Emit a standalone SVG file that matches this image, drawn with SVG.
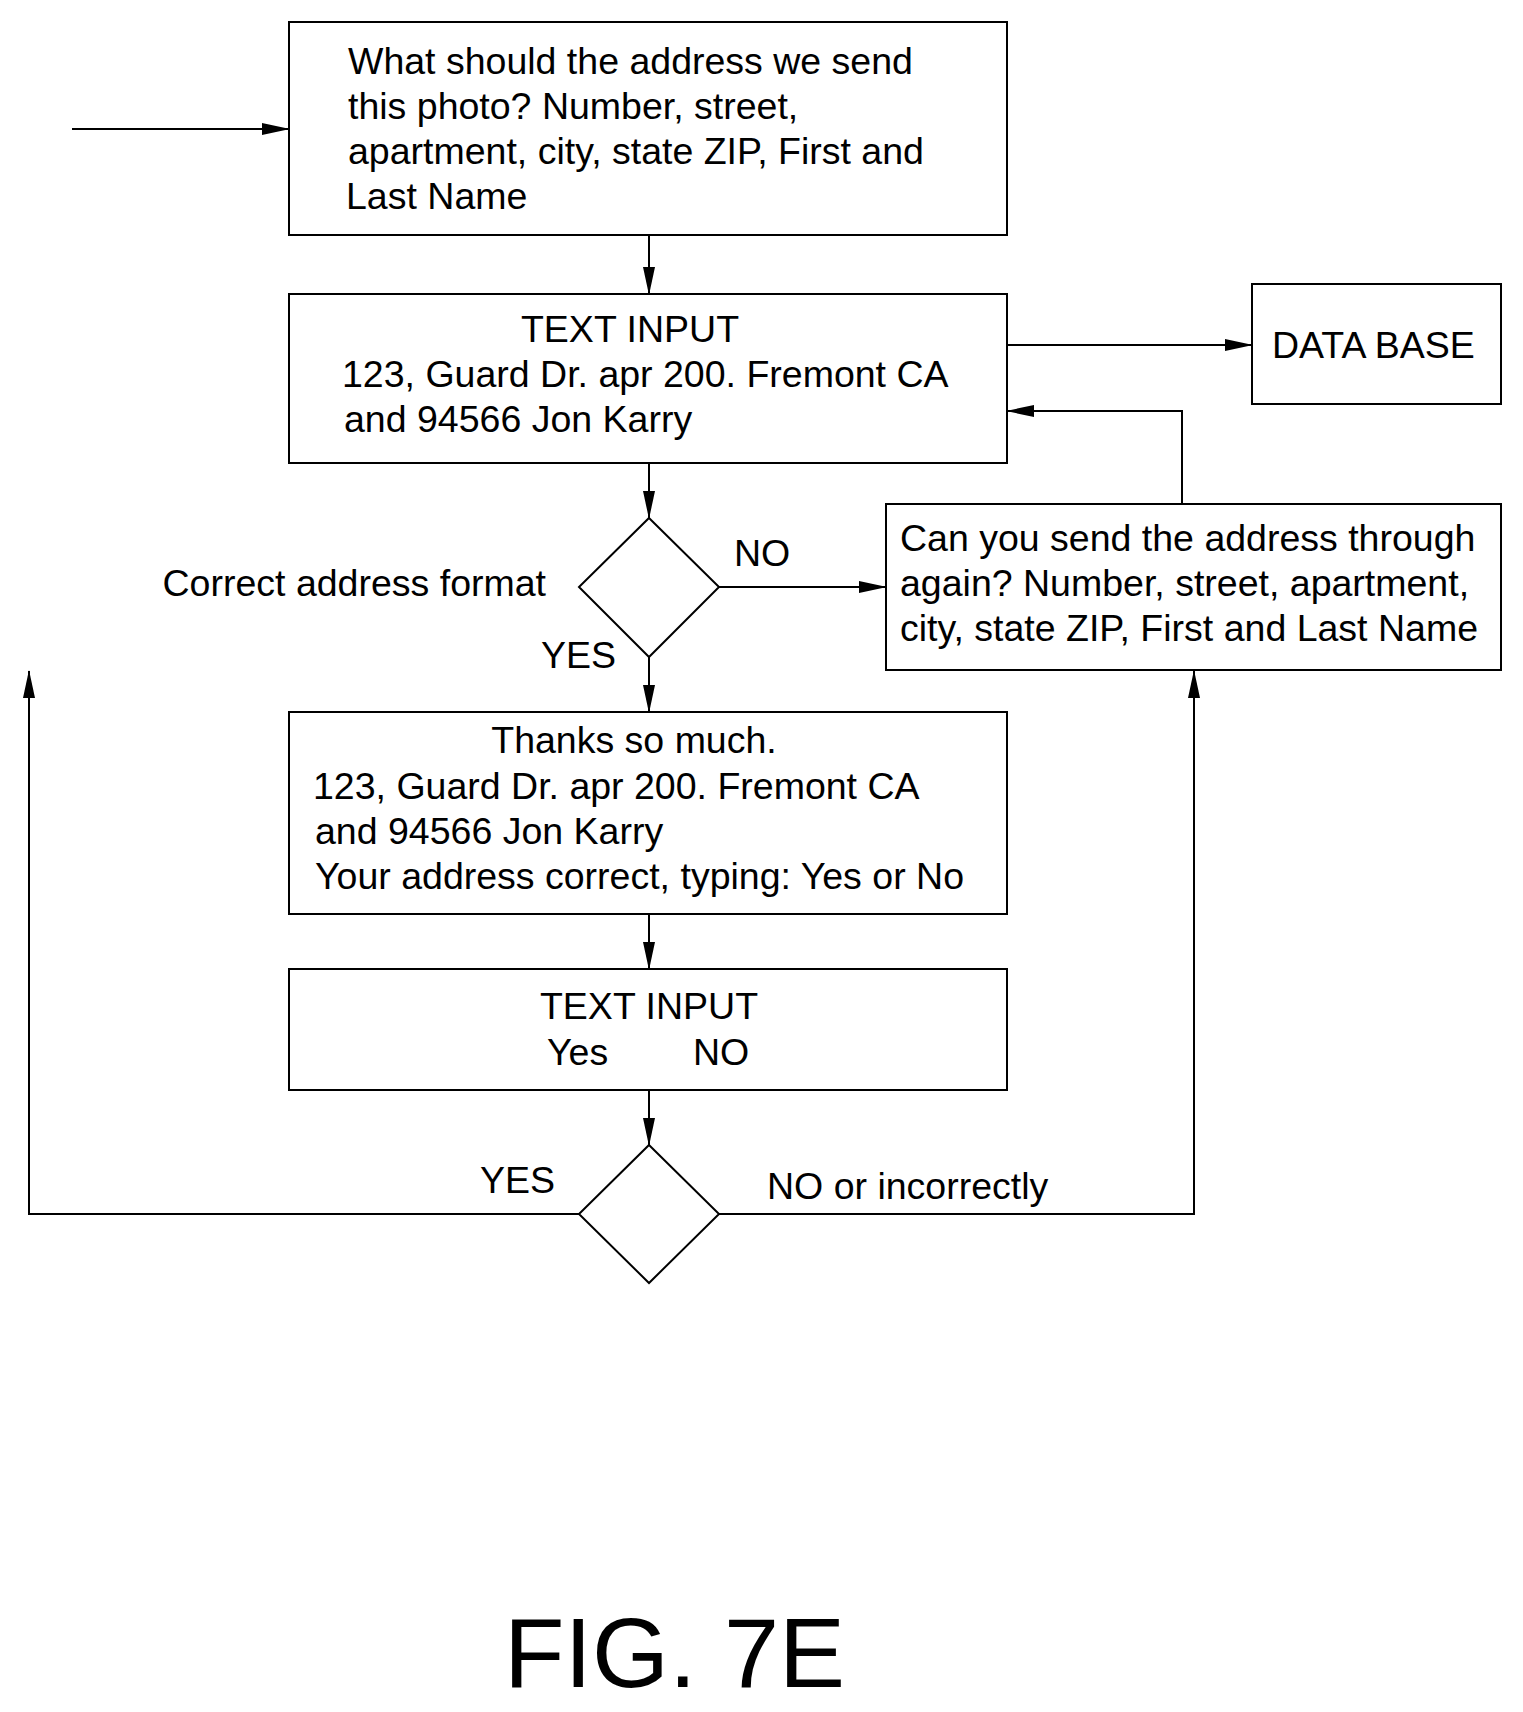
<svg xmlns="http://www.w3.org/2000/svg" width="1523" height="1712" viewBox="0 0 1523 1712">
<defs><marker id="a" markerWidth="28" markerHeight="12" refX="27" refY="6" orient="auto" markerUnits="userSpaceOnUse"><path d="M0,0 L28,6 L0,12 Z" fill="#000"/></marker></defs>
<style>
.b rect,polygon{fill:#fff;stroke:#000;stroke-width:2}
text{font-family:"Liberation Sans",Arial,sans-serif;font-size:37.5px;fill:#000}
.c path{fill:none;stroke:#000;stroke-width:2}
.m{text-anchor:middle}
</style>
<rect width="1523" height="1712" style="fill:#fff;stroke:none"/>
<g class="c">
<path d="M72,129 H289" marker-end="url(#a)"/>
<path d="M649,235 V294" marker-end="url(#a)"/>
<path d="M1007,345 H1252" marker-end="url(#a)"/>
<path d="M1182,504 V411 H1007" marker-end="url(#a)"/>
<path d="M649,463 V518" marker-end="url(#a)"/>
<path d="M719,587 H886" marker-end="url(#a)"/>
<path d="M649,657 V712" marker-end="url(#a)"/>
<path d="M649,914 V969" marker-end="url(#a)"/>
<path d="M649,1090 V1145" marker-end="url(#a)"/>
<path d="M579,1214 H29 V671" marker-end="url(#a)"/>
<path d="M719,1214 H1194 V671" marker-end="url(#a)"/>
</g>
<g id="n1" class="b"><rect x="289" y="22" width="718" height="213"/>
<text x="348" y="74">What should the address we send</text><text x="348" y="119">this photo? Number, street,</text><text x="348" y="164">apartment, city, state ZIP, First and</text><text x="346" y="209">Last Name</text></g>
<g id="n2" class="b"><rect x="289" y="294" width="718" height="169"/>
<text x="630" y="342" class="m">TEXT INPUT</text><text x="342" y="387">123, Guard Dr. apr 200. Fremont CA</text><text x="344" y="432">and 94566 Jon Karry</text></g>
<g id="db" class="b"><rect x="1252" y="284" width="249" height="120"/><text x="1272" y="358">DATA BASE</text></g>
<g id="d1" class="b"><polygon points="649,518 719,587 649,657 579,587"/>
<text x="546" y="596" text-anchor="end">Correct address format</text><text x="734" y="566">NO</text><text x="541" y="668">YES</text></g>
<g id="n3" class="b"><rect x="886" y="504" width="615" height="166"/>
<text x="900" y="551">Can you send the address through</text><text x="900" y="596">again? Number, street, apartment,</text><text x="900" y="641">city, state ZIP, First and Last Name</text></g>
<g id="n4" class="b"><rect x="289" y="712" width="718" height="202"/>
<text x="634" y="753" class="m">Thanks so much.</text><text x="313" y="799">123, Guard Dr. apr 200. Fremont CA</text><text x="315" y="844">and 94566 Jon Karry</text><text x="315" y="889">Your address correct, typing: Yes or No</text></g>
<g id="n5" class="b"><rect x="289" y="969" width="718" height="121"/>
<text x="649" y="1019" class="m">TEXT INPUT</text><text x="547" y="1065">Yes</text><text x="693" y="1065">NO</text></g>
<g id="d2" class="b"><polygon points="649,1145 719,1214 649,1283 579,1214"/>
<text x="480" y="1193">YES</text><text x="767" y="1199">NO or incorrectly</text></g>
<text x="504" y="1687" style="font-size:99px">FIG. 7E</text>
</svg>
